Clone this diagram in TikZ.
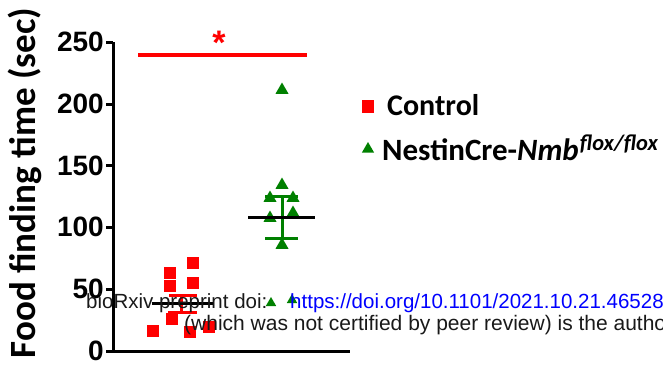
\documentclass[tikz,border=0pt]{standalone}
\usepackage{fontspec}
\setmainfont{Liberation Sans}
\newfontfamily\calibri{Carlito}
\usetikzlibrary{shapes.geometric}

\definecolor{ctrlred}{RGB}{255,0,0}
\definecolor{mutgreen}{RGB}{0,128,0}
\definecolor{linkblue}{RGB}{0,0,255}

\tikzset{
  axisline/.style={line width=3pt},
  sqmark/.style={rectangle, fill=ctrlred, inner sep=0pt, minimum size=12.5pt},
  trimark/.style={regular polygon, regular polygon sides=3, fill=mutgreen, inner sep=0pt, minimum size=15pt},
  smalltri/.style={trimark, minimum size=12pt},
  meanline/.style={line width=3pt, black},
  errbar/.style={line width=3pt},
  ticklabel/.style={anchor=east, inner sep=0pt, font=\bfseries\fontsize{28}{28}\selectfont},
  legendtext/.style={anchor=base west, inner sep=0pt, font=\calibri\bfseries\fontsize{30}{30}\selectfont},
  stamp/.style={anchor=base west, inner sep=0pt, font=\fontsize{20.5}{20.5}\selectfont, text=black!90}
}

\begin{document}
\begin{tikzpicture}[x=1pt,y=-1pt]
\useasboundingbox (0,0) rectangle (663,370);

% axes
\coordinate (origin) at (113,351);
\coordinate (ytop) at (113,42);
\coordinate (xend) at (350,351);
\draw[axisline] (ytop) -- (origin) -- (xend);

% y ticks and labels
\foreach \v/\y in {250/42, 200/104, 150/165.5, 100/227, 50/289, 0/351} {
  \coordinate (t\v) at (106,\y);
  \draw[axisline] (t\v) -- (113,\y);
  \node[ticklabel] (lab\v) at (104,\y) {\v};
}

% axis title
\node[rotate=90, inner sep=0pt, font=\calibri\bfseries\fontsize{37}{37}\selectfont] (ytitle) at (25,183) {Food finding time (sec)};

% significance bar
\coordinate (sigL) at (138,55);
\coordinate (sigR) at (307,55);
\draw[line width=4pt, ctrlred] (sigL) -- (sigR);
\node[text=ctrlred, inner sep=0pt, font=\bfseries\fontsize{34}{34}\selectfont] (star) at (219,43) {*};

% control group
\foreach \i/\px/\py in {1/193/263, 2/170/273, 3/170/286, 4/193/283, 5/172/319, 6/153/331, 7/190/332, 8/209/327}
  \node[sqmark] (c\i) at (\px,\py) {};

% mutant group
\foreach \i/\px/\py in {1/282/90, 2/282/185, 3/270/198, 4/293/198, 5/270/218, 6/293/213, 7/282/245}
  \node[trimark] (m\i) at (\px,\py) {};
\node[smalltri] (m8) at (271,303) {};
\node[smalltri] (m9) at (292,300) {};

% control mean and SEM
\coordinate (cTop) at (181,295);
\coordinate (cBot) at (181,312);
\draw[errbar, ctrlred] (cTop) -- (cBot);
\draw[errbar, ctrlred] (169,295) -- (197,295);
\draw[errbar, ctrlred] (168,312) -- (197,312);
\draw[meanline] (152,303) -- (213,303);

% mutant mean and SEM
\coordinate (mTop) at (282,196);
\coordinate (mBot) at (282,238);
\draw[errbar, mutgreen] (mTop) -- (mBot);
\draw[errbar, mutgreen] (265,196) -- (298,196);
\draw[errbar, mutgreen] (265,238) -- (298,238);
\draw[meanline] (248,217) -- (315,217);

% legend
\node[sqmark, minimum width=12pt, minimum height=13pt] (legc) at (368,106) {};
\node[legendtext] (legctext) at (387,115) {Control};
\node[trimark, minimum size=14pt] (legm) at (368,149) {};
\node[legendtext, font=\calibri\bfseries\fontsize{31}{31}\selectfont] (legmtext) at (382,160) {NestinCre-\textit{Nmb}\kern1pt\raisebox{10pt}{\fontsize{22.5}{22.5}\selectfont\itshape flox/flox}};

% preprint stamp
\node[stamp] (stamp1) at (86,308.5) {bioRxiv preprint doi:};
\node[stamp, text=linkblue] (stamp2) at (290,308.5) {https://doi.org/10.1101/2021.10.21.465285};
\node[stamp, font=\fontsize{21}{21}\selectfont] (stamp3) at (184,330) {(which was not certified by peer review) is the author/funder};
\end{tikzpicture}
\end{document}
